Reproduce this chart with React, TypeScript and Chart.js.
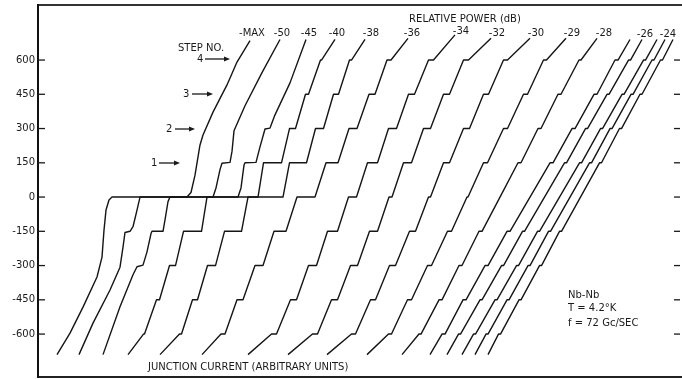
import React, { useEffect, useRef } from "react";
import { Chart, registerables } from "chart.js";
Chart.register(...registerables);

const powerLabels = ["-MAX", "-50", "-45", "-40", "-38", "-36", "-34", "-32", "-30", "-29", "-28", "-26", "-24"];
const powerLabelX = [252, 282, 309, 337, 371, 412, 461, 497, 536, 572, 604, 645, 668];
const powerLabelY = [33, 33, 33, 33, 33, 33, 31, 33, 33, 33, 33, 34, 34];
const yTicks = [600, 450, 300, 150, 0, -150, -300, -450, -600];

type P = [number, number];
const c01: P[] = [[57, -690], [70, -596], [83, -482], [97, -350], [102, -263], [104, -145], [106, -57], [109, -13], [112, 0], [187, 0], [191, 20], [195, 96], [200, 228], [203, 272], [213, 372], [227, 491], [237, 591], [250, 685]];
const c02: P[] = [[79, -690], [93, -552], [110, -407], [120, -307], [123, -219], [125, -155], [130, -150], [133, -130], [137, -57], [140, 0], [213, 0], [216, 40], [220, 120], [222, 148], [230, 152], [232, 200], [234, 290], [245, 400], [262, 545], [280, 690]];
const c03: P[] = [[103, -690], [120, -480], [133, -340], [137, -305], [143, -298], [147, -240], [151, -160], [152, -150], [163, -150], [165, -100], [168, -20], [170, 0], [238, 0], [241, 40], [244, 140], [245, 150], [256, 152], [260, 220], [265, 298], [270, 302], [275, 360], [290, 500], [306, 690]];
const c04: P[] = [[128, -690], [143.5, -600], [144.5, -600], [156.5, -450], [159.5, -450], [169.5, -300], [175.5, -300], [183.5, -150], [201.5, -150], [207, 0], [258, 0], [263.5, 150], [281.5, 150], [289.5, 300], [295.5, 300], [305.5, 450], [308.5, 450], [320.5, 600], [321.5, 600], [335, 690]];
const c05: P[] = [[160, -690], [179.5, -600], [181.5, -600], [192.5, -450], [197.5, -450], [207.5, -300], [215.5, -300], [224.5, -150], [241.5, -150], [248, 0], [283, 0], [289.5, 150], [306.5, 150], [315.5, 300], [323.5, 300], [333.5, 450], [338.5, 450], [349.5, 600], [351.5, 600], [365, 690]];
const c06: P[] = [[202, -690], [221, -600], [225, -600], [237, -450], [243, -450], [255, -300], [263, -300], [274, -150], [286, -150], [297, 0], [315, 0], [326, 150], [338, 150], [349, 300], [357, 300], [369, 450], [375, 450], [387, 600], [391, 600], [408, 695]];
const c07: P[] = [[248, -690], [271.5, -600], [276.5, -600], [290.5, -450], [296.5, -450], [308.5, -300], [316.5, -300], [327.5, -150], [337.5, -150], [348.5, 0], [356.5, 0], [367.5, 150], [377.5, 150], [388.5, 300], [396.5, 300], [408.5, 450], [414.5, 450], [428.5, 600], [433.5, 600], [455, 710]];
const c08: P[] = [[288, -690], [312.5, -600], [317.5, -600], [331.5, -450], [337.5, -450], [350.5, -300], [357.5, -300], [369.5, -150], [377.5, -150], [389, 0], [392, 0], [403.5, 150], [411.5, 150], [423.5, 300], [430.5, 300], [443.5, 450], [449.5, 450], [463.5, 600], [468.5, 600], [491, 695]];
const c09: P[] = [[327, -690], [351.5, -600], [355.5, -600], [370.5, -450], [375.5, -450], [389.5, -300], [395.5, -300], [409.5, -150], [415.5, -150], [428.5, 0], [430.5, 0], [443.5, 150], [449.5, 150], [463.5, 300], [469.5, 300], [483.5, 450], [488.5, 450], [503.5, 600], [507.5, 600], [530, 695]];
const c10: P[] = [[367, -690], [388.5, -600], [391.5, -600], [407.5, -450], [411.5, -450], [427.5, -300], [431.5, -300], [447.5, -150], [451.5, -150], [467, 0], [468, 0], [483.5, 150], [487.5, 150], [503.5, 300], [507.5, 300], [523.5, 450], [527.5, 450], [543.5, 600], [546.5, 600], [566, 695]];
const c11: P[] = [[402, -690], [419, -600], [421, -600], [439, -450], [442, -450], [459, -300], [462, -300], [479, -150], [482, -150], [500, 0], [518, 150], [521, 150], [538, 300], [541, 300], [558, 450], [561, 450], [579, 600], [581, 600], [597, 695]];
const c12: P[] = [[430, -690], [442, -600], [445, -600], [463, -450], [466, -450], [485, -300], [488, -300], [507, -150], [510, -150], [530, 0], [550, 150], [553, 150], [572, 300], [575, 300], [594, 450], [597, 450], [615, 600], [618, 600], [630, 690]];
const c13: P[] = [[447, -690], [458.5, -600], [460.5, -600], [480, -450], [482, -450], [501.5, -300], [503.5, -300], [522.5, -150], [524.5, -150], [544.5, 0], [564.5, 150], [566.5, 150], [585.5, 300], [587.5, 300], [607, 450], [609, 450], [628.5, 600], [630.5, 600], [642, 690]];
const c14: P[] = [[462, -690], [473.5, -600], [475.5, -600], [495, -450], [497, -450], [516.5, -300], [518.5, -300], [537.5, -150], [539.5, -150], [559.5, 0], [579.5, 150], [581.5, 150], [600.5, 300], [602.5, 300], [622, 450], [624, 450], [643.5, 600], [645.5, 600], [657, 690]];
const c15: P[] = [[475, -690], [486, -600], [488, -600], [507, -450], [509, -450], [528, -300], [530, -300], [548.5, -150], [550.5, -150], [570, 0], [589.5, 150], [591.5, 150], [610, 300], [612, 300], [631, 450], [633, 450], [652, 600], [654, 600], [665, 690]];
const c16: P[] = [[488, -690], [498.5, -600], [500.5, -600], [519, -450], [521, -450], [539.5, -300], [541.5, -300], [559.5, -150], [561.5, -150], [580.5, 0], [599.5, 150], [601.5, 150], [619.5, 300], [621.5, 300], [640, 450], [642, 450], [660.5, 600], [662.5, 600], [673, 690]];
const curves = [c01, c02, c03, c04, c05, c06, c07, c08, c09, c10, c11, c12, c13, c14, c15, c16];

const FONT = "'DejaVu Sans', sans-serif";

export default function App() {
  const ref = useRef<HTMLCanvasElement | null>(null);
  useEffect(() => {
    document.body.style.margin = "0";
    const canvas = ref.current!;
    const deco = {
      id: "deco",
      afterDraw(chart: any) {
        const { ctx, chartArea: a } = chart;
        const ys = chart.scales.y;
        ctx.save();
        ctx.strokeStyle = "#1a1a1a";
        ctx.lineWidth = 1.3;
        for (const v of yTicks) {
          const py = ys.getPixelForValue(v);
          ctx.beginPath();
          ctx.moveTo(a.left, py);
          ctx.lineTo(a.left + 7, py);
          ctx.stroke();
          ctx.beginPath();
          ctx.moveTo(a.right - 8, py);
          ctx.lineTo(a.right - 2, py);
          ctx.stroke();
        }
        ctx.fillStyle = "#1a1a1a";
        ctx.textBaseline = "middle";
        ctx.textAlign = "center";
        ctx.font = `10px ${FONT}`;
        ctx.fillText("RELATIVE POWER (dB)", 465, 19);
        powerLabels.forEach((t, i) => ctx.fillText(t, powerLabelX[i], powerLabelY[i]));
        ctx.textAlign = "left";
        ctx.fillText("STEP NO.", 178, 48);
        ctx.fillText("JUNCTION CURRENT (ARBITRARY UNITS)", 148, 367);
        ctx.fillText("Nb-Nb", 568, 295);
        ctx.fillText("T = 4.2°K", 568, 308);
        ctx.fillText("f = 72 Gc/SEC", 568, 323);
        const arrows: [string, number, number, number, number][] = [
          ["4", 197, 205, 230, 59],
          ["3", 183, 192, 213, 94],
          ["2", 166, 175, 195, 129],
          ["1", 151, 159, 180, 163],
        ];
        for (const [t, tx, x0, x1, y] of arrows) {
          ctx.fillText(t, tx, y);
          ctx.beginPath();
          ctx.moveTo(x0, y);
          ctx.lineTo(x1 - 4, y);
          ctx.stroke();
          ctx.beginPath();
          ctx.moveTo(x1, y);
          ctx.lineTo(x1 - 6, y - 2.5);
          ctx.lineTo(x1 - 6, y + 2.5);
          ctx.closePath();
          ctx.fill();
        }
        ctx.restore();
      },
    };
    const chart = new Chart(canvas, {
      type: "line",
      data: {
        datasets: curves.map((c) => ({
          data: c.map(([x, y]) => ({ x, y })),
          borderColor: "#151515",
          borderWidth: 1.4,
          pointRadius: 0,
          fill: false,
          tension: 0,
          borderJoinStyle: "round" as const,
        })),
      },
      options: {
        animation: false,
        responsive: false,
        maintainAspectRatio: false,
        layout: { padding: { top: 5, bottom: 2, left: 0, right: 0 } },
        plugins: { legend: { display: false }, tooltip: { enabled: false } },
        scales: {
          x: {
            type: "linear",
            min: 38,
            max: 682,
            position: "bottom",
            ticks: { display: false },
            grid: { display: false, drawTicks: false },
            border: { display: true, color: "#222", width: 2 },
            afterFit: (s: any) => { s.height = 0; s.paddingLeft = 0; s.paddingRight = 0; },
          },
          x2: {
            type: "linear",
            min: 38,
            max: 682,
            position: "top",
            ticks: { display: false },
            grid: { display: false, drawTicks: false },
            border: { display: true, color: "#333", width: 2 },
            afterFit: (s: any) => { s.height = 0; s.paddingLeft = 0; s.paddingRight = 0; },
          },
          y: {
            type: "linear",
            min: -788,
            max: 841,
            afterBuildTicks: (s: any) => { s.ticks = yTicks.map((v) => ({ value: v })); },
            ticks: { color: "#1a1a1a", font: { family: FONT, size: 10 }, padding: 3 },
            grid: { display: true, drawOnChartArea: false, drawTicks: false },
            border: { display: true, color: "#111", width: 2 },
            afterFit: (s: any) => { s.width = 38; s.paddingTop = 0; s.paddingBottom = 0; },
          },
        },
      },
      plugins: [deco],
    });
    return () => chart.destroy();
  }, []);
  return <canvas ref={ref} width={682} height={379} style={{ display: "block" }} />;
}
